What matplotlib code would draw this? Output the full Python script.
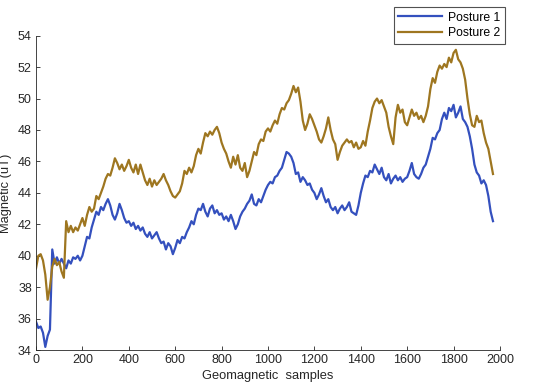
import numpy as np
import matplotlib
matplotlib.use("Agg")
import matplotlib.pyplot as plt

plt.rcParams['font.family'] = ['Liberation Sans', 'DejaVu Sans']

step = 10  # sample spacing of the read-off values
posture1 = [
    35.8, 35.4, 35.5, 35.1, 34.2, 34.9, 35.3, 40.4, 39.5, 39.9,
    39.5, 39.8, 39.5, 39.2, 39.7, 39.5, 39.9, 39.8, 40.0, 39.7,
    40.0, 40.6, 41.2, 41.1, 41.8, 42.3, 42.8, 42.6, 43.1, 42.9,
    43.3, 43.6, 43.2, 42.6, 42.3, 42.7, 43.3, 42.9, 42.4, 42.1,
    42.2, 41.9, 42.1, 41.7, 41.9, 41.6, 41.8, 41.4, 41.2, 41.5,
    41.1, 41.3, 41.5, 41.1, 40.8, 40.9, 40.4, 40.8, 40.6, 40.1,
    40.5, 41.0, 40.8, 41.2, 41.1, 41.5, 41.8, 42.2, 42.0, 42.6,
    43.0, 42.9, 43.3, 42.8, 42.5, 43.0, 43.2, 42.7, 42.9, 42.6,
    42.7, 42.3, 42.5, 42.2, 42.6, 42.2, 41.7, 42.0, 42.5, 42.8,
    43.0, 43.3, 43.5, 43.9, 43.3, 43.2, 43.6, 43.4, 43.8, 44.2,
    44.5, 44.7, 44.6, 45.0, 45.1, 45.4, 45.6, 46.1, 46.6, 46.5,
    46.3, 45.9, 45.2, 45.3, 44.7, 45.0, 44.8, 44.5, 44.6, 44.2,
    44.0, 43.6, 43.9, 44.3, 43.8, 43.4, 43.6, 43.1, 42.9, 43.1,
    42.7, 43.0, 43.2, 42.9, 43.1, 43.4, 42.8, 42.7, 42.6, 43.2,
    44.0, 44.6, 45.1, 45.0, 45.4, 45.3, 45.8, 45.5, 45.2, 45.6,
    45.0, 44.8, 45.2, 44.6, 44.9, 45.1, 44.8, 45.0, 44.7, 44.9,
    45.0, 45.4, 45.9, 45.2, 45.0, 44.9, 45.2, 45.6, 45.8, 46.3,
    46.8, 47.5, 47.4, 47.8, 48.0, 48.7, 49.1, 48.7, 49.4, 49.2,
    49.6, 48.8, 49.1, 49.5, 48.7, 48.5, 48.2, 47.6, 46.8, 45.8,
    45.3, 45.1, 44.6, 44.8, 44.5, 43.8, 42.8, 42.2,
]
posture2 = [
    39.2, 40.0, 40.1, 39.7, 38.8, 37.2, 38.0, 39.3, 39.8, 39.4,
    39.6, 39.0, 38.6, 42.2, 41.5, 41.9, 41.5, 41.8, 41.6, 42.0,
    42.4, 41.9, 42.6, 43.1, 42.8, 43.0, 43.8, 43.6, 44.0, 44.4,
    44.9, 45.2, 45.1, 45.6, 46.2, 45.9, 45.5, 45.8, 45.4, 45.7,
    46.1, 45.6, 45.3, 45.8, 45.2, 45.8, 45.3, 44.8, 44.5, 44.9,
    44.4, 44.8, 44.5, 44.7, 44.9, 45.2, 44.8, 44.5, 44.1, 43.8,
    43.7, 43.9, 44.1, 44.6, 45.4, 45.2, 45.6, 45.3, 45.7, 46.4,
    46.8, 46.5, 47.2, 47.8, 47.6, 47.9, 47.7, 48.0, 48.2, 47.8,
    47.2, 46.8, 46.5, 46.0, 45.6, 46.3, 45.8, 46.4, 45.6, 45.4,
    45.9, 45.0, 45.4, 46.0, 46.6, 46.4, 47.1, 47.4, 47.3, 47.9,
    48.1, 47.9, 48.3, 48.6, 48.4, 49.0, 49.4, 49.3, 49.7, 49.9,
    50.3, 50.8, 50.4, 50.7, 49.8, 48.6, 48.0, 48.4, 49.0, 48.7,
    48.3, 47.9, 47.4, 47.2, 47.6, 48.1, 48.8, 48.0, 47.4, 47.1,
    46.1, 46.6, 47.0, 47.2, 47.4, 47.2, 47.3, 46.9, 47.2, 46.8,
    46.9, 47.3, 47.0, 47.9, 48.6, 49.4, 49.8, 50.0, 49.7, 49.9,
    49.5, 49.1, 48.2, 47.6, 47.1, 48.8, 49.6, 49.1, 49.3, 48.5,
    48.3, 48.8, 49.3, 48.9, 49.1, 48.7, 48.9, 48.5, 48.9, 49.5,
    50.6, 51.3, 51.0, 51.7, 52.1, 51.9, 52.2, 52.0, 52.6, 52.3,
    52.9, 53.1, 52.5, 52.3, 51.9, 51.2, 50.0, 49.0, 48.3, 48.2,
    48.9, 48.5, 48.6, 47.8, 47.2, 46.8, 46.0, 45.2,
]
series_labels = ["Posture 1", "Posture 2"]
x_ticks = [0, 200, 400, 600, 800, 1000, 1200, 1400, 1600, 1800, 2000]
y_ticks = [34, 36, 38, 40, 42, 44, 46, 48, 50, 52, 54]

x1 = np.arange(len(posture1)) * step
x2 = np.arange(len(posture2)) * step

fig = plt.figure(figsize=(5.5, 3.92), dpi=100)
ax = fig.add_axes([0.0655, 0.107, 0.8435, 0.802])
ax.plot(x1, posture1, color="#3450BE", lw=1.6, label=series_labels[0])
ax.plot(x2, posture2, color="#9E7620", lw=1.6, label=series_labels[1])

ax.set_xlim(0, 2000)
ax.set_ylim(34, 54)
ax.set_xticks(x_ticks)
ax.set_yticks(y_ticks)
for s in ["top", "right"]:
    ax.spines[s].set_visible(False)
for s in ["left", "bottom"]:
    ax.spines[s].set_color("#262626")
    ax.spines[s].set_linewidth(0.6)
ax.tick_params(direction="in", length=3, width=0.6, colors="#262626",
               labelsize=9, pad=3)
ax.set_xlabel("Geomagnetic  samples", fontsize=9.3, color="#262626", labelpad=3)
ax.set_ylabel("Magnetic (uT)", fontsize=9.3, color="#262626", labelpad=4)

leg = fig.legend(loc="upper right", bbox_to_anchor=(0.918, 0.981),
                 fontsize=8.8, frameon=True, fancybox=False,
                 handlelength=3.6, borderpad=0.35, labelspacing=0.3,
                 handletextpad=0.5, borderaxespad=0)
leg.get_frame().set_edgecolor("#262626")
leg.get_frame().set_linewidth(0.8)

fig.savefig("out.png", dpi=100)
